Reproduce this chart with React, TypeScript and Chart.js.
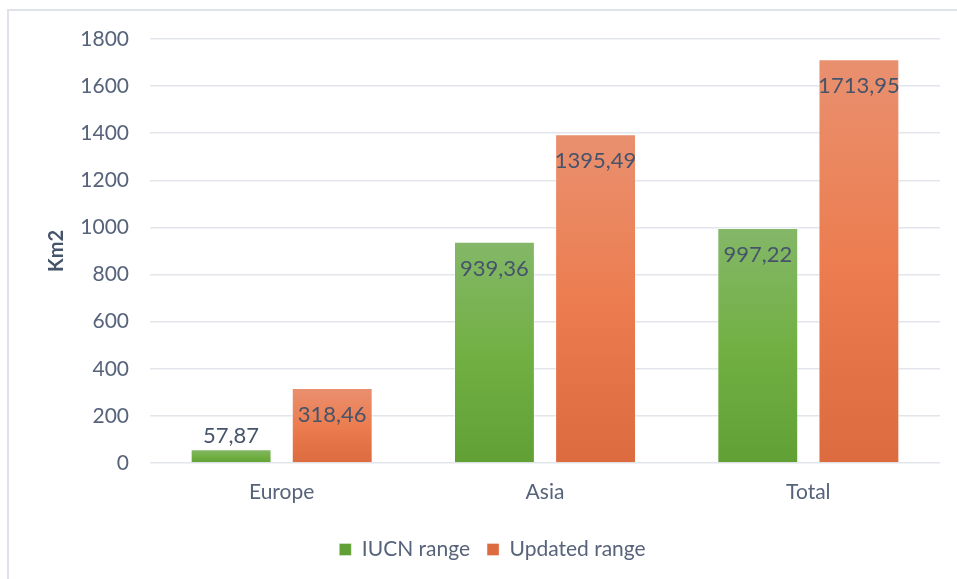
import React, { useEffect, useRef } from "react";
import { Chart, registerables } from "chart.js";

Chart.register(...registerables);

// Range area per region, km²
const regions = ["Europe", "Asia", "Total"];
const iucnRange = [57.87, 939.36, 997.22];
const updatedRange = [318.46, 1395.49, 1713.95];
const seriesNames = ["IUCN range", "Updated range"];
const axisTitle = "Km2";
const yMin = 0;
const yMax = 1800;
const yStep = 200;

const FONT = "Lato, 'Open Sans', 'Noto Sans', sans-serif";
const TICK_COLOR = "#56637a";
const LABEL_COLOR = "#46546b";
const GRID_COLOR = "#e2e6eb";

const GREEN = ["#84b768", "#72b044", "#61a035"];
const ORANGE = ["#e9906f", "#ec7d50", "#dc6b3f"];

const fmt = (v: number) => v.toFixed(2).replace(".", ",");

// Vertical gradient spanning each bar from its top to the baseline
const barGradient = (stops: string[]) => (ctx: any) => {
  const chart = ctx.chart;
  const y = chart.scales?.y;
  if (ctx.type !== "data" || !y || !chart.chartArea) return stops[1];
  const top = y.getPixelForValue(ctx.raw as number);
  const base = y.getPixelForValue(0);
  if (!isFinite(top) || !isFinite(base) || top === base) return stops[1];
  const g = chart.ctx.createLinearGradient(0, top, 0, base);
  g.addColorStop(0, stops[0]);
  g.addColorStop(0.5, stops[1]);
  g.addColorStop(1, stops[2]);
  return g;
};

// Value labels: inside the top of tall bars, above short ones
const valueLabels = {
  id: "valueLabels",
  afterDatasetsDraw(chart: any) {
    const { ctx } = chart;
    ctx.save();
    ctx.font = `22px ${FONT}`;
    ctx.fillStyle = LABEL_COLOR;
    ctx.textAlign = "center";
    ctx.textBaseline = "middle";
    chart.data.datasets.forEach((ds: any, di: number) => {
      const meta = chart.getDatasetMeta(di);
      meta.data.forEach((bar: any, i: number) => {
        const v = ds.data[i] as number;
        const h = bar.base - bar.y;
        const y = h > 40 ? bar.y + 27 : bar.y - 13;
        ctx.fillText(fmt(v), bar.x, y);
      });
    });
    ctx.restore();
  },
};

export default function App() {
  const canvasRef = useRef<HTMLCanvasElement | null>(null);

  useEffect(() => {
    const canvas = canvasRef.current;
    if (!canvas) return;
    const chart = new Chart(canvas, {
      type: "bar",
      data: {
        labels: regions,
        datasets: [
          {
            label: seriesNames[0],
            data: iucnRange,
            backgroundColor: barGradient(GREEN),
            borderColor: "rgba(255,255,255,0.35)",
            borderWidth: 1,
            categoryPercentage: 0.768,
            barPercentage: 0.8,
          },
          {
            label: seriesNames[1],
            data: updatedRange,
            backgroundColor: barGradient(ORANGE),
            borderColor: "rgba(255,255,255,0.35)",
            borderWidth: 1,
            categoryPercentage: 0.768,
            barPercentage: 0.8,
          },
        ],
      },
      options: {
        responsive: false,
        maintainAspectRatio: false,
        animation: false,
        events: [],
        layout: { padding: { left: 45, top: 39, right: 17, bottom: 9 } },
        scales: {
          x: {
            grid: { display: false, drawTicks: false },
            border: { display: false },
            ticks: { color: TICK_COLOR, font: { family: FONT, size: 21 }, padding: 17 },
            afterFit: (s: any) => {
              s.height = 59;
            },
          },
          y: {
            min: yMin,
            max: yMax,
            grid: { color: GRID_COLOR, lineWidth: 1.5, drawTicks: false },
            border: { display: false },
            ticks: {
              stepSize: yStep,
              color: TICK_COLOR,
              font: { family: FONT, size: 21 },
              padding: 21,
              callback: (v: any) => String(v),
            },
            title: {
              display: true,
              text: axisTitle,
              color: LABEL_COLOR,
              font: { family: FONT, size: 20, weight: "bold" },
              padding: 0,
            },
            afterFit: (s: any) => {
              s.width = 105;
            },
          },
        },
        plugins: {
          legend: {
            position: "bottom",
            labels: {
              boxWidth: 12,
              boxHeight: 12,
              padding: 17,
              color: TICK_COLOR,
              font: { family: FONT, size: 21 },
            },
          },
          tooltip: { enabled: false },
        },
      },
      plugins: [valueLabels],
    });
    return () => chart.destroy();
  }, []);

  return (
    <div
      style={{
        position: "fixed",
        left: 0,
        top: 0,
        width: 957,
        height: 579,
        background: "#ffffff",
        overflow: "hidden",
      }}
    >
      <div
        style={{
          position: "absolute",
          left: 7,
          top: 9,
          width: 970,
          height: 590,
          border: "2px solid #dfe3e9",
          boxSizing: "border-box",
        }}
      />
      <canvas
        ref={canvasRef}
        width={957}
        height={579}
        style={{ position: "absolute", left: 0, top: 0 }}
      />
    </div>
  );
}
